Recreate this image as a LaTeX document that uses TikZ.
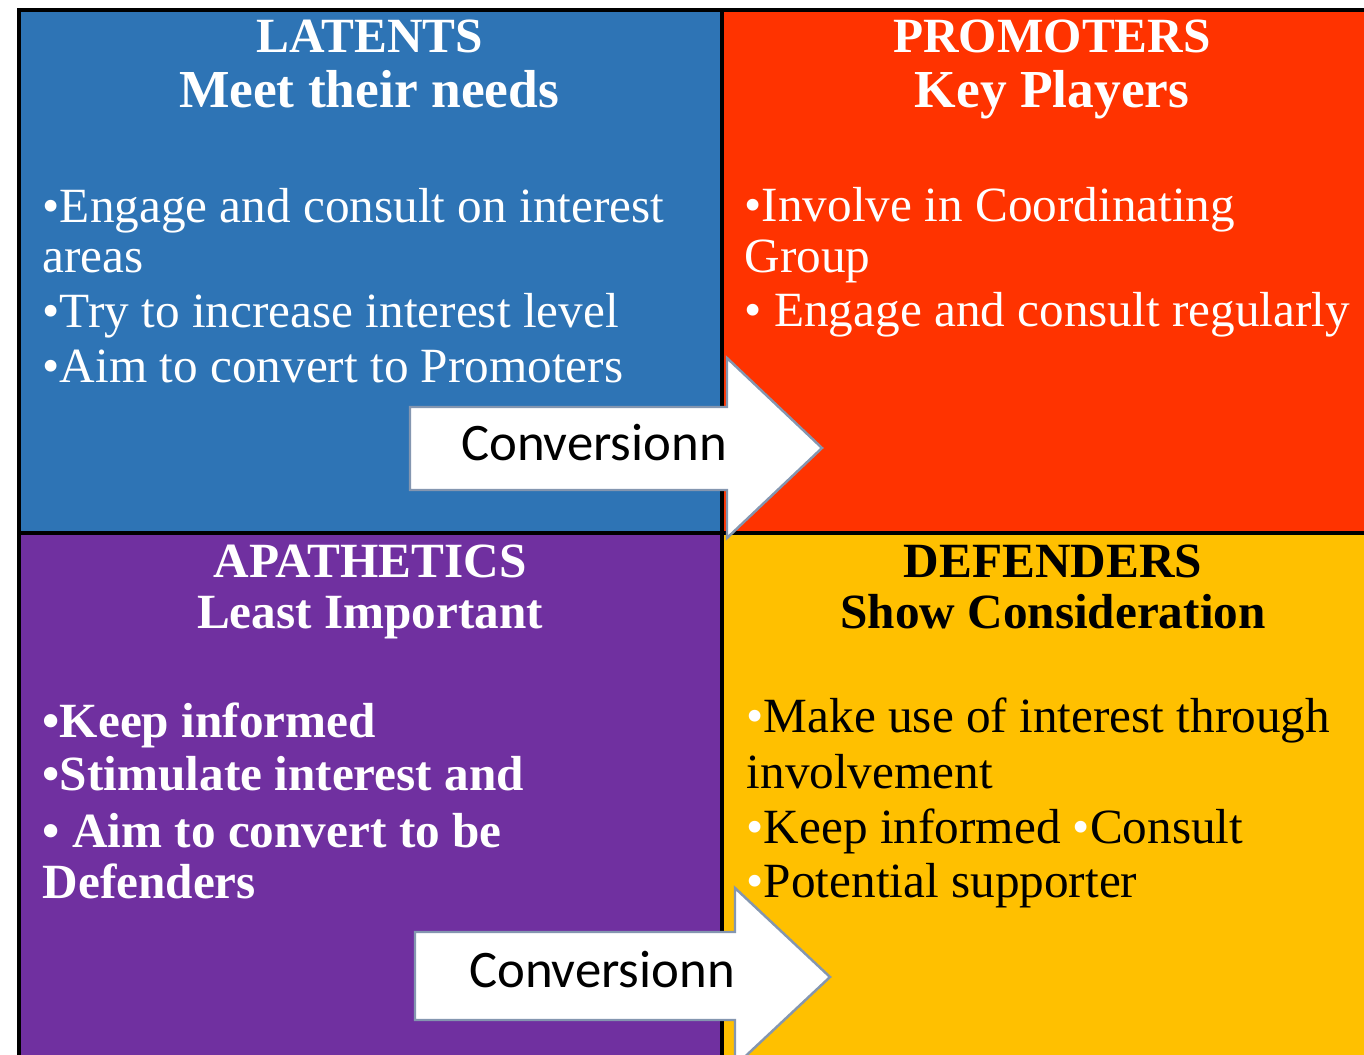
\documentclass[tikz,border=0pt]{standalone}
\usepackage{fontspec}
\setmainfont{Liberation Serif}
\newfontfamily\convfont{Carlito}
\definecolor{latblue}{HTML}{2E74B5}
\definecolor{promred}{HTML}{FF3300}
\definecolor{apapurple}{HTML}{7030A0}
\definecolor{defyellow}{HTML}{FFC000}
\definecolor{arrowedge}{HTML}{8496B0}
\begin{document}
\begin{tikzpicture}[x=0.01cm,y=-0.01cm,
		heading/.style={inner sep=0pt,anchor=base,font=\fontsize{14}{16}\selectfont\bfseries},
		item/.style={inner sep=0pt,anchor=base west,font=\fontsize{14}{16}\selectfont},
		convarrow/.style={fill=white,draw=arrowedge,line width=0.7pt,line join=miter},
		convtext/.style={inner sep=0pt,anchor=base,font=\fontsize{15}{18}\selectfont\convfont}]
	\useasboundingbox (0,0) rectangle (1364,1055);
	\clip (0,0) rectangle (1364,1055);
	
	% quadrants
	\fill[latblue] (20,10) rectangle (722,533);
	\fill[promred] (722,10) rectangle (1364,533);
	\fill[apapurple] (20,533) rectangle (722,1055);
	\fill[defyellow] (722,533) rectangle (1364,1055);
	\draw[line width=1.15pt] (19,1060) -- (19,10) -- (1370,10);
	\draw[line width=1.15pt] (722,10) -- (722,1060);
	\draw[line width=1.15pt] (19,533) -- (1370,533);
	
	% arrows
	\draw[convarrow] (410,407) -- (727,407) -- (727,358) -- (822,448) -- (727,538) -- (727,490) -- (410,490) -- cycle;
	\draw[convarrow] (415,932) -- (735,932) -- (735,888) -- (830,977) -- (735,1066) -- (735,1020) -- (415,1020) -- cycle;
	\node[convtext] (conv1) at (594,460) {Conversionn};
	\node[convtext] (conv2) at (602,987) {Conversionn};
	
	% headings
	\node[heading,white] (lat1) at (370,53) {LATENTS};
	\node[heading,white,font=\fontsize{15.2}{17}\selectfont\bfseries] (lat2) at (369,108) {Meet their needs};
	\node[heading,white] (prom1) at (1052,53) {PROMOTERS};
	\node[heading,white,font=\fontsize{15.2}{17}\selectfont\bfseries] (prom2) at (1052,108) {Key Players};
	\node[heading,white] (apa1) at (370,577) {APATHETICS};
	\node[heading,white] (apa2) at (370,628) {Least Important};
	\node[heading,black] (def1) at (1053,577) {DEFENDERS};
	\node[heading,black] (def2) at (1053,628) {Show Consideration};
	
	% items
	\foreach \y/\t [count=\i] in {223/\textbullet Engage and consult on interest, 273/areas,
		328/\textbullet Try to increase interest level, 383/\textbullet Aim to convert to Promoters}
		\node[item,white] (latitem\i) at (42,\y) {\t};
	\foreach \y/\t [count=\i] in {222/\textbullet Involve in Coordinating, 273/Group,
		327/\textbullet\ Engage and consult regularly}
		\node[item,white] (promitem\i) at (744,\y) {\t};
	\foreach \y/\t [count=\i] in {737/\textbullet Keep informed, 790/\textbullet Stimulate interest and,
		847/\textbullet\ Aim to convert to be, 898/Defenders}
		\node[item,white,font=\fontsize{14}{16}\selectfont\bfseries] (apaitem\i) at (42,\y) {\t};
	\foreach \y/\t [count=\i] in {732/{\color{white}\textbullet}Make use of interest through, 788/involvement,
		843/{\color{white}\textbullet}Keep informed {\color{white}\textbullet}Consult, 897/{\color{white}\textbullet}Potential supporter}
		\node[item,black] (defitem\i) at (746,\y) {\t};
\end{tikzpicture}
\end{document}
